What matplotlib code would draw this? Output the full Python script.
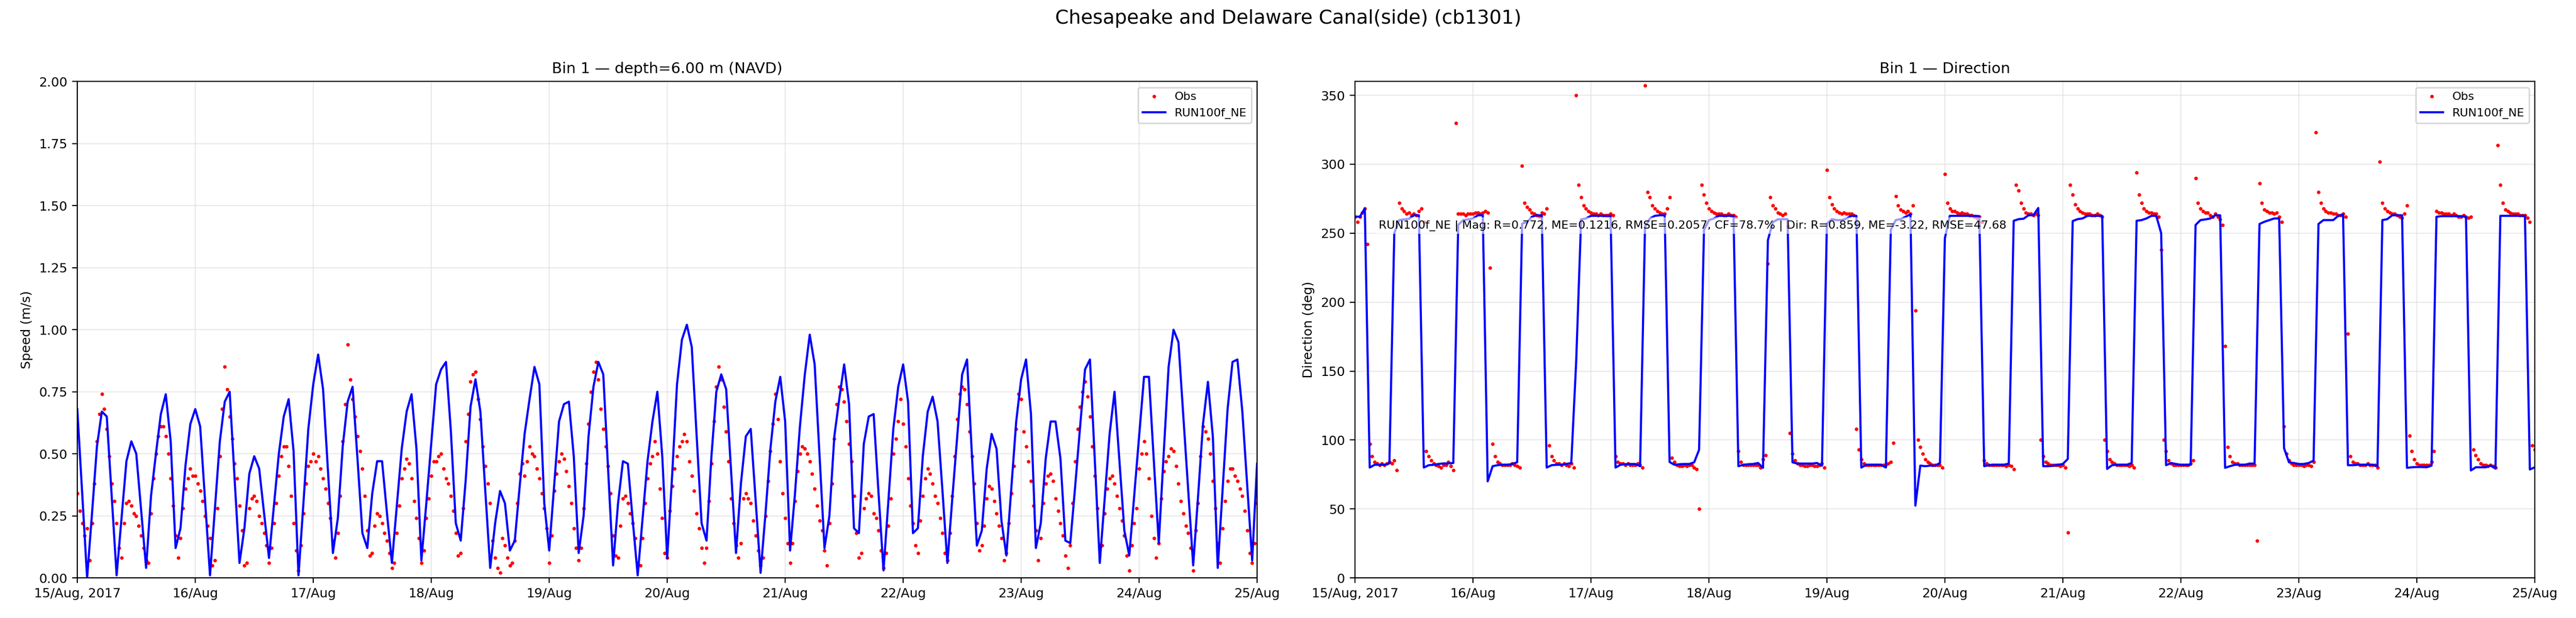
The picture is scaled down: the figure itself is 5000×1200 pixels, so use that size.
import matplotlib
matplotlib.use("Agg")
import matplotlib.pyplot as plt
import numpy as np
import pandas as pd

# ---- data (obs every 30 min, model hourly) ----
obs_speed = [
    0.34, 0.27, 0.22, 0.17, 0.20, 0.07, 0.22, 0.38, 0.55, 0.66, 0.74, 0.68,
    0.60, 0.49, 0.38, 0.31, 0.22, 0.12, 0.08, 0.22, 0.30, 0.31, 0.29, 0.26,
    0.25, 0.21, 0.17, 0.12, 0.07, 0.06, 0.26, 0.40, 0.50, 0.57, 0.61, 0.61,
    0.57, 0.50, 0.40, 0.29, 0.17, 0.08, 0.16, 0.28, 0.36, 0.40, 0.44, 0.41,
    0.41, 0.38, 0.35, 0.31, 0.25, 0.21, 0.16, 0.05, 0.07, 0.28, 0.49, 0.68,
    0.85, 0.76, 0.65, 0.56, 0.46, 0.40, 0.29, 0.19, 0.05, 0.06, 0.28, 0.32,
    0.33, 0.31, 0.25, 0.22, 0.18, 0.13, 0.06, 0.12, 0.22, 0.30, 0.41, 0.49,
    0.53, 0.53, 0.45, 0.33, 0.22, 0.11, 0.03, 0.13, 0.26, 0.38, 0.45, 0.47,
    0.50, 0.47, 0.49, 0.44, 0.40, 0.36, 0.30, 0.24, 0.15, 0.08, 0.18, 0.33,
    0.55, 0.70, 0.94, 0.80, 0.72, 0.65, 0.57, 0.51, 0.44, 0.33, 0.19, 0.09,
    0.10, 0.21, 0.26, 0.25, 0.22, 0.18, 0.15, 0.10, 0.04, 0.06, 0.18, 0.29,
    0.40, 0.44, 0.48, 0.46, 0.40, 0.31, 0.24, 0.16, 0.06, 0.11, 0.24, 0.32,
    0.41, 0.47, 0.47, 0.49, 0.50, 0.44, 0.40, 0.38, 0.33, 0.27, 0.18, 0.09,
    0.10, 0.28, 0.55, 0.66, 0.79, 0.82, 0.83, 0.72, 0.64, 0.53, 0.45, 0.38,
    0.30, 0.15, 0.08, 0.04, 0.02, 0.16, 0.13, 0.08, 0.05, 0.06, 0.15, 0.30,
    0.42, 0.46, 0.41, 0.47, 0.53, 0.50, 0.49, 0.44, 0.40, 0.34, 0.28, 0.20,
    0.06, 0.17, 0.35, 0.42, 0.47, 0.50, 0.48, 0.43, 0.37, 0.30, 0.20, 0.12,
    0.07, 0.12, 0.28, 0.46, 0.62, 0.75, 0.83, 0.87, 0.80, 0.68, 0.60, 0.53,
    0.45, 0.34, 0.17, 0.09, 0.08, 0.21, 0.32, 0.33, 0.30, 0.26, 0.22, 0.16,
    0.06, 0.05, 0.16, 0.30, 0.40, 0.46, 0.49, 0.55, 0.50, 0.36, 0.24, 0.10,
    0.08, 0.27, 0.37, 0.44, 0.49, 0.53, 0.55, 0.58, 0.55, 0.47, 0.41, 0.35,
    0.26, 0.20, 0.12, 0.06, 0.12, 0.31, 0.46, 0.63, 0.77, 0.85, 0.80, 0.69,
    0.59, 0.47, 0.32, 0.22, 0.13, 0.08, 0.14, 0.32, 0.34, 0.32, 0.30, 0.23,
    0.17, 0.11, 0.05, 0.08, 0.25, 0.39, 0.51, 0.62, 0.74, 0.64, 0.47, 0.34,
    0.24, 0.14, 0.06, 0.14, 0.31, 0.43, 0.50, 0.53, 0.52, 0.50, 0.47, 0.42,
    0.36, 0.29, 0.23, 0.19, 0.11, 0.05, 0.22, 0.38, 0.56, 0.70, 0.77, 0.76,
    0.71, 0.63, 0.54, 0.47, 0.33, 0.18, 0.08, 0.10, 0.28, 0.32, 0.34, 0.33,
    0.26, 0.24, 0.19, 0.11, 0.04, 0.10, 0.21, 0.32, 0.50, 0.56, 0.63, 0.72,
    0.62, 0.53, 0.40, 0.29, 0.22, 0.13, 0.10, 0.23, 0.33, 0.40, 0.44, 0.42,
    0.38, 0.33, 0.30, 0.24, 0.18, 0.10, 0.07, 0.18, 0.33, 0.49, 0.64, 0.74,
    0.77, 0.76, 0.70, 0.59, 0.49, 0.38, 0.22, 0.11, 0.13, 0.21, 0.32, 0.37,
    0.36, 0.31, 0.26, 0.21, 0.16, 0.07, 0.10, 0.22, 0.34, 0.45, 0.60, 0.74,
    0.72, 0.59, 0.53, 0.47, 0.39, 0.29, 0.19, 0.07, 0.16, 0.30, 0.38, 0.41,
    0.42, 0.39, 0.32, 0.27, 0.22, 0.17, 0.09, 0.04, 0.13, 0.30, 0.47, 0.60,
    0.69, 0.75, 0.79, 0.73, 0.65, 0.53, 0.41, 0.28, 0.13, 0.13, 0.26, 0.36,
    0.40, 0.41, 0.38, 0.33, 0.28, 0.23, 0.17, 0.09, 0.03, 0.13, 0.22, 0.28,
    0.44, 0.50, 0.55, 0.50, 0.40, 0.25, 0.16, 0.08, 0.14, 0.32, 0.43, 0.47,
    0.49, 0.52, 0.51, 0.45, 0.38, 0.31, 0.26, 0.21, 0.18, 0.12, 0.03, 0.19,
    0.30, 0.49, 0.61, 0.59, 0.56, 0.50, 0.39, 0.28, 0.14, 0.06, 0.20, 0.31,
    0.39, 0.44, 0.44, 0.41, 0.39, 0.36, 0.33, 0.27, 0.19, 0.10, 0.06, 0.14,
    0.30,
]

obs_dir = [
    262, 258, 262, 265, 268, 242, 97, 88, 84, 83, 82, 83,
    82, 83, 84, 83, 85, 78, 272, 268, 266, 264, 265, 263,
    264, 263, 266, 268, 258, 92, 88, 85, 83, 82, 81, 80,
    82, 82, 84, 81, 78, 330, 264, 264, 264, 263, 264, 264,
    264, 265, 265, 264, 265, 266, 265, 225, 97, 88, 84, 83,
    82, 82, 82, 82, 83, 82, 81, 80, 299, 272, 269, 267,
    265, 264, 263, 262, 265, 264, 268, 96, 88, 85, 83, 83,
    82, 83, 82, 81, 83, 80, 350, 285, 276, 270, 268, 266,
    265, 264, 264, 263, 264, 263, 263, 263, 264, 263, 88, 84,
    83, 83, 82, 83, 82, 82, 82, 83, 82, 80, 357, 280,
    276, 270, 268, 266, 265, 264, 264, 268, 276, 87, 84, 82,
    81, 81, 82, 81, 82, 82, 80, 79, 50, 285, 278, 272,
    268, 266, 265, 264, 264, 264, 263, 263, 264, 263, 263, 262,
    92, 84, 82, 82, 82, 82, 82, 82, 82, 80, 86, 89,
    228, 276, 270, 268, 265, 264, 263, 264, 255, 105, 90, 85,
    83, 82, 82, 81, 81, 82, 82, 81, 81, 82, 83, 80,
    296, 276, 271, 268, 266, 265, 264, 265, 264, 264, 264, 263,
    108, 93, 86, 83, 82, 82, 82, 82, 82, 82, 82, 82,
    82, 83, 84, 98, 277, 270, 267, 266, 265, 266, 264, 270,
    194, 100, 95, 90, 86, 84, 83, 82, 82, 82, 82, 80,
    293, 272, 268, 266, 266, 265, 264, 265, 264, 264, 263, 263,
    262, 261, 262, 258, 85, 83, 82, 82, 82, 82, 82, 82,
    82, 81, 82, 81, 79, 285, 281, 272, 268, 265, 264, 264,
    263, 264, 263, 100, 88, 84, 83, 82, 82, 82, 82, 81,
    82, 80, 33, 285, 278, 271, 268, 266, 265, 264, 264, 264,
    263, 263, 264, 263, 262, 100, 92, 86, 84, 83, 82, 82,
    82, 82, 82, 81, 82, 80, 294, 278, 272, 268, 266, 265,
    265, 264, 264, 262, 238, 100, 92, 85, 83, 82, 82, 82,
    82, 82, 82, 82, 83, 85, 290, 272, 268, 266, 265, 265,
    263, 262, 264, 262, 260, 256, 168, 95, 88, 84, 83, 83,
    82, 82, 82, 82, 82, 82, 82, 27, 286, 272, 267, 266,
    265, 265, 264, 265, 262, 258, 110, 90, 85, 83, 82, 82,
    82, 82, 81, 82, 82, 81, 84, 323, 280, 272, 268, 266,
    265, 265, 264, 264, 263, 263, 264, 262, 177, 88, 84, 83,
    83, 82, 82, 82, 83, 82, 82, 82, 80, 302, 272, 268,
    266, 265, 264, 264, 263, 262, 261, 264, 270, 103, 92, 86,
    83, 82, 82, 82, 82, 82, 84, 92, 266, 265, 265, 264,
    264, 264, 263, 264, 263, 262, 262, 263, 262, 261, 262, 93,
    89, 86, 83, 82, 82, 81, 82, 81, 80, 314, 285, 272,
    267, 266, 265, 264, 264, 264, 263, 263, 263, 261, 258, 96,
    93,
]

model_speed = [
    0.68, 0.34, 0.00, 0.26, 0.53, 0.67, 0.65, 0.33, 0.01, 0.24, 0.47, 0.55,
    0.50, 0.27, 0.04, 0.33, 0.50, 0.66, 0.74, 0.55, 0.12, 0.20, 0.45, 0.62,
    0.68, 0.61, 0.31, 0.01, 0.28, 0.55, 0.71, 0.75, 0.40, 0.06, 0.20, 0.42,
    0.49, 0.44, 0.26, 0.08, 0.29, 0.50, 0.65, 0.72, 0.51, 0.01, 0.30, 0.60,
    0.78, 0.90, 0.76, 0.43, 0.10, 0.24, 0.53, 0.71, 0.77, 0.48, 0.18, 0.12,
    0.34, 0.47, 0.47, 0.26, 0.06, 0.29, 0.52, 0.67, 0.74, 0.52, 0.07, 0.30,
    0.54, 0.78, 0.84, 0.87, 0.59, 0.22, 0.15, 0.39, 0.69, 0.80, 0.67, 0.35,
    0.04, 0.22, 0.35, 0.30, 0.11, 0.15, 0.37, 0.58, 0.72, 0.85, 0.78, 0.30,
    0.11, 0.37, 0.63, 0.70, 0.71, 0.49, 0.10, 0.25, 0.57, 0.77, 0.87, 0.82,
    0.43, 0.05, 0.30, 0.47, 0.46, 0.23, 0.01, 0.24, 0.47, 0.63, 0.75, 0.49,
    0.08, 0.41, 0.78, 0.96, 1.02, 0.93, 0.57, 0.22, 0.15, 0.49, 0.75, 0.82,
    0.76, 0.43, 0.10, 0.38, 0.57, 0.60, 0.31, 0.02, 0.26, 0.52, 0.71, 0.81,
    0.63, 0.11, 0.34, 0.61, 0.82, 0.98, 0.86, 0.49, 0.12, 0.25, 0.57, 0.72,
    0.86, 0.70, 0.20, 0.18, 0.54, 0.65, 0.66, 0.34, 0.03, 0.31, 0.60, 0.77,
    0.86, 0.71, 0.18, 0.20, 0.49, 0.67, 0.73, 0.63, 0.35, 0.06, 0.32, 0.57,
    0.82, 0.88, 0.49, 0.13, 0.19, 0.44, 0.58, 0.52, 0.23, 0.09, 0.36, 0.63,
    0.80, 0.88, 0.66, 0.12, 0.22, 0.48, 0.63, 0.63, 0.48, 0.15, 0.14, 0.37,
    0.61, 0.84, 0.88, 0.47, 0.06, 0.32, 0.58, 0.75, 0.47, 0.19, 0.09, 0.33,
    0.57, 0.81, 0.81, 0.47, 0.14, 0.50, 0.85, 1.00, 0.95, 0.65, 0.35, 0.05,
    0.33, 0.62, 0.79, 0.57, 0.04, 0.36, 0.68, 0.87, 0.88, 0.67, 0.37, 0.07,
    0.46,
]

model_dir = [
    262, 262, 268, 80, 82, 82, 82, 83, 250, 259.5, 260, 260.5,
    263, 263, 80, 81.7, 82, 82.6, 83, 83, 83.3, 256, 259.5, 260,
    260.7, 263, 263, 70, 81, 81.7, 82, 82, 82.6, 83.8, 257, 258,
    262, 263, 263, 80, 81.7, 82, 82, 82.6, 83.3, 157, 260, 260.7,
    262.6, 262.6, 262.6, 262.6, 262.6, 80, 82, 82.4, 82.6, 82.6, 81, 254.8,
    260.7, 262.6, 263, 263, 84, 82, 82.4, 82.6, 82.6, 83.8, 92.9, 252.4,
    259.5, 260.7, 262.6, 262.6, 262.6, 262.6, 81, 82, 82.4, 82.6, 83.3, 79.8,
    245, 258, 260, 260.2, 260.2, 83.8, 82.9, 82.9, 82.9, 82.9, 83.3, 81.4,
    257, 260.2, 259.5, 259.5, 260.7, 262.6, 262.6, 80, 82, 82, 82, 82,
    80, 252.4, 259.5, 260.2, 261.9, 263.8, 52.4, 81.4, 81, 81.4, 81.4, 83.3,
    246.4, 262.6, 262.6, 262.6, 262.6, 262.6, 262.6, 262.4, 81, 81.7, 82, 82,
    82, 82.9, 259, 260.2, 260.5, 263, 263, 268.3, 81, 81, 81.4, 82,
    82.6, 86.2, 258.8, 260.2, 260.7, 262.6, 262.6, 262.6, 262.6, 79, 81.7, 82,
    82, 82, 83.3, 259, 259.5, 260.7, 262.6, 262.6, 250, 81.7, 83.3, 82.6,
    82, 82, 82, 256, 259.5, 260, 260.7, 263, 263, 79.8, 81, 82,
    82, 82, 82.9, 82.9, 256.7, 258.3, 259.5, 260.7, 260.7, 94, 83.8, 83.3,
    82.6, 82.6, 83.3, 85, 256.7, 259.5, 259.5, 259.5, 262.6, 263.6, 81.7, 81.7,
    82, 82, 82, 82, 81, 259.5, 260.2, 263, 263, 263, 79.8, 80.2,
    80.4, 80.4, 80.2, 81.4, 261.9, 262.4, 262.4, 262.4, 262.4, 262.4, 261.9, 77.9,
    80.2, 80.2, 80.2, 81.4, 79.3, 262.6, 262.6, 262.6, 262.6, 262.6, 262.6, 78.6,
    80.2,
]

day_labels = ["15/Aug, 2017", "16/Aug", "17/Aug", "18/Aug", "19/Aug", "20/Aug",
              "21/Aug", "22/Aug", "23/Aug", "24/Aug", "25/Aug"]

stats_text = ("RUN100f_NE | Mag: R=0.772, ME=0.1216, RMSE=0.2057, CF=78.7% | "
              "Dir: R=0.859, ME=-3.22, RMSE=47.68")

start = pd.Timestamp("2017-08-15 00:00")
end = pd.Timestamp("2017-08-25 00:00")
obs_time = pd.date_range(start, end, freq="30min")
model_time = pd.date_range(start, end, freq="1h")
day_ticks = pd.date_range(start, end, freq="1D")

fig = plt.figure(figsize=(25, 6), dpi=200)
ax1 = fig.add_axes([0.030, 0.065, 0.458, 0.803])
ax2 = fig.add_axes([0.526, 0.065, 0.458, 0.803])

for ax in (ax1, ax2):
    ax.grid(True, color="#dddddd", linewidth=0.8, alpha=0.6)
    ax.set_axisbelow(True)

# speed
ax1.plot(obs_time, obs_speed, "o", color="red", ms=2.5, mew=0, label="Obs")
ax1.plot(model_time, model_speed, "-", color="blue", lw=1.5, label="RUN100f_NE")
ax1.set_ylim(0, 2.0)
ax1.set_yticks(np.arange(0, 2.01, 0.25))
ax1.set_ylabel("Speed (m/s)", fontsize=9)
ax1.set_title("Bin 1 \u2014 depth=6.00 m (NAVD)", fontsize=10.5)
ax1.legend(loc="upper right", fontsize=8)

# direction
ax2.plot(obs_time, obs_dir, "o", color="red", ms=2.5, mew=0, label="Obs")
ax2.plot(model_time, model_dir, "-", color="blue", lw=1.5, label="RUN100f_NE")
ax2.set_ylim(0, 360)
ax2.set_yticks(np.arange(0, 351, 50))
ax2.set_ylabel("Direction (deg)", fontsize=9)
ax2.set_title("Bin 1 \u2014 Direction", fontsize=10.5)
ax2.legend(loc="upper right", fontsize=8)
ax2.text(0.02, 0.71, stats_text, transform=ax2.transAxes, fontsize=8,
         va="center", ha="left", zorder=5,
         bbox=dict(facecolor="white", alpha=0.6, edgecolor="none", pad=2))

for ax in (ax1, ax2):
    ax.set_xlim(start, end)
    ax.set_xticks(day_ticks)
    ax.set_xticklabels(day_labels)
    ax.tick_params(labelsize=9)

fig.suptitle("Chesapeake and Delaware Canal(side) (cb1301)", fontsize=13.5, y=0.985)

fig.savefig("out.png", dpi=200)
